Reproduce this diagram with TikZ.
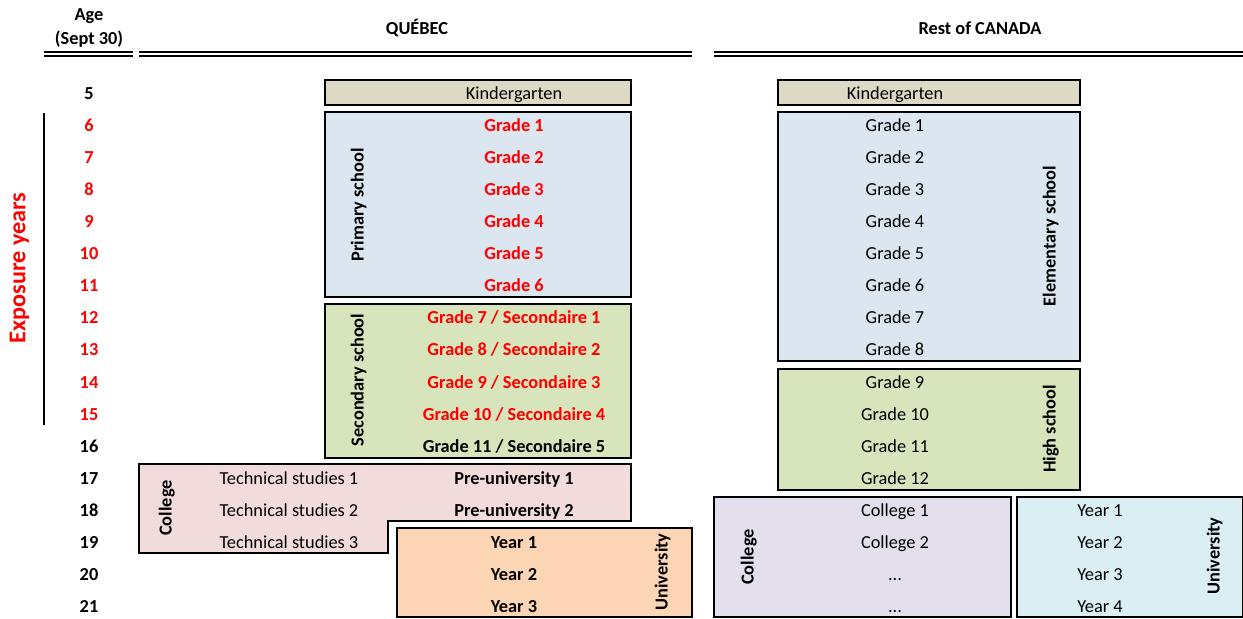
\documentclass[tikz,border=0pt]{standalone}
\usepackage{fontspec}
\setmainfont{Carlito}
\usetikzlibrary{positioning}
\definecolor{kgtan}{HTML}{DDD9C4}
\definecolor{primblue}{HTML}{DCE6F1}
\definecolor{secgreen}{HTML}{D8E4BC}
\definecolor{colpink}{HTML}{F2DCDB}
\definecolor{unipeach}{HTML}{FCD5B4}
\definecolor{collav}{HTML}{E4DFEC}
\definecolor{unicyan}{HTML}{DAEEF3}

\begin{document}
\begin{tikzpicture}[
    x=0.6pt, y=-0.6pt,
    every node/.style={font=\fontsize{11}{13}\selectfont, inner sep=0pt,
                       text height=8pt, text depth=0.2pt},
    box/.style={draw=black, line width=1.2pt},
    bold/.style={font=\fontsize{11}{13}\selectfont\bfseries},
    expo/.style={bold, text=red},
    side/.style={bold, rotate=90},
    rule/.style={line width=1.2pt},
]
\useasboundingbox (0,0) rectangle (1243,618);

% Headers with double rules.
\node[bold] (age) at (89,14) {Age};
\node[bold] (sept) at (89,38) {(Sept 30)};
\node[bold] (qc) at (417,28) {QUÉBEC};
\node[bold] (roc) at (980,28) {Rest of CANADA};
\foreach \xa/\xb in {44/133,139/692,714/1243} {
  \draw[rule] (\xa,52) -- (\xb,52);
  \draw[rule] (\xa,56) -- (\xb,56);
}

% Age column.
\foreach \a in {5,16,17,...,21} {
  \node[bold] (age\a) at (89,{93+32.06*(\a-5)}) {\a};
}
\foreach \a in {6,...,15} {
  \node[expo] (age\a) at (89,{93+32.06*(\a-5)}) {\a};
}
\draw[line width=1pt] (44,113) -- (44,425);
\node[expo, rotate=90, font=\fontsize{14.5}{16}\selectfont\bfseries,
      text height=9pt, text depth=2.5pt] (expyrs) at (20,268) {Exposure years};

% Quebec boxes.
\draw[box, fill=kgtan] (325,80) rectangle (631,105);
\draw[box, fill=primblue] (325,112) rectangle (631,297);
\draw[box, fill=secgreen] (325,304) rectangle (631,458);
\draw[box, fill=colpink] (139,464) -- (631,464) -- (631,521) -- (388,521)
  -- (388,553) -- (139,553) -- cycle;
\draw[box, fill=unipeach] (397,528) rectangle (692,617);

\node (qkg) at (514,93) {Kindergarten};
\foreach \g in {1,...,6} {
  \node[expo] (qg\g) at (514,{93+32.06*\g}) {Grade \g};
}
\foreach \g/\s in {7/1,8/2,9/3,10/4} {
  \node[expo] (qg\g) at (514,{93+32.06*\g}) {Grade \g\ / Secondaire \s};
}
\node[bold] (qg11) at (514,446) {Grade 11 / Secondaire 5};
\foreach \n in {1,2,3} {
  \node (qts\n) at (289,{446+32.06*\n}) {Technical studies \n};
}
\node[bold] (qpu1) at (514,478) {Pre-university 1};
\node[bold] (qpu2) at (514,510) {Pre-university 2};
\foreach \n in {1,2,3} {
  \node[bold] (qy\n) at (514,{510+32.06*\n}) {Year \n};
}
\node[side] (qprim) at (357,205) {Primary school};
\node[side] (qsec) at (357,380) {Secondary school};
\node[side] (qcol) at (165,508) {College};
\node[side] (quni) at (661,572) {University};

% Rest of Canada boxes.
\draw[box, fill=kgtan] (778,80) rectangle (1080,105);
\draw[box, fill=primblue] (778,112) rectangle (1080,361);
\draw[box, fill=secgreen] (778,369) rectangle (1080,490);
\draw[box, fill=collav] (714,497) rectangle (1011,617);
\draw[box, fill=unicyan] (1017,497) rectangle (1243,617);

\node (ckg) at (895,93) {Kindergarten};
\foreach \g in {1,...,12} {
  \node (cg\g) at (895,{93+32.06*\g}) {Grade \g};
}
\node (cc1) at (895,510) {College 1};
\node (cc2) at (895,542) {College 2};
\node (cc3) at (895,574) {...};
\node (cc4) at (895,606) {...};
\foreach \n in {1,...,4} {
  \node (cy\n) at (1100,{478+32.06*\n}) {Year \n};
}
\node[side] (celem) at (1049,236) {Elementary school};
\node[side] (chigh) at (1049,429) {High school};
\node[side] (ccol) at (747,557) {College};
\node[side] (cuni) at (1213,556) {University};
\end{tikzpicture}
\end{document}
